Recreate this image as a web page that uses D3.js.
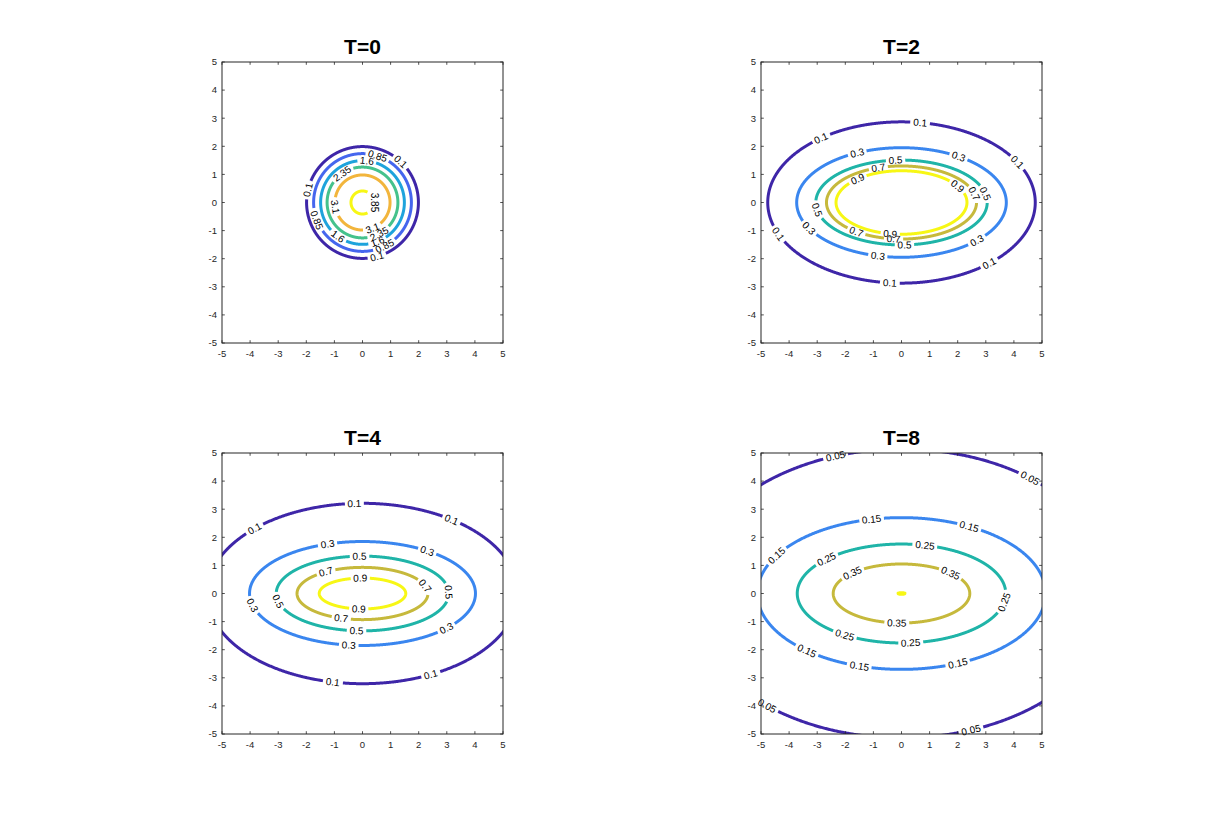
<!DOCTYPE html>
<html><head><meta charset="utf-8">
<script src="https://cdn.jsdelivr.net/npm/d3@7"></script>
<style>body{margin:0;background:#fff}svg{display:block}</style>
</head><body>
<svg id="chart" width="1221" height="825"></svg>
<script>
// ---------- data ----------
const titles = ["T=0", "T=2", "T=4", "T=8"];
const tickValues = [-5, -4, -3, -2, -1, 0, 1, 2, 3, 4, 5];

// T=0
const levelsT0 = [0.1, 0.85, 1.6, 2.35, 3.1, 3.85];
const semiXT0 = [1.99, 1.74, 1.49, 1.26, 0.98, 0.41];
const semiYT0 = [1.99, 1.74, 1.49, 1.26, 0.98, 0.41];
const labelAnglesT0 = [[167, 47, 285], [72, 201, 297], [84, 234, 291], [125, 298], [189, 291], [0]];
// T=2
const levelsT2 = [0.1, 0.3, 0.5, 0.7, 0.9];
const semiXT2 = [4.76, 3.73, 3.05, 2.67, 2.33];
const semiYT2 = [2.87, 1.95, 1.51, 1.30, 1.13];
const labelAnglesT2 = [[82, 127, 30, 203, 311, 265], [115, 57, 208, 316, 257], [94, 190, 12, 272], [108, 14, 233, 264], [132, 31, 260]];
// T=4
const levelsT4 = [0.1, 0.3, 0.5, 0.7, 0.9];
const semiXT4 = [5.53, 4.02, 3.07, 2.33, 1.54];
const semiYT4 = [3.21, 1.85, 1.33, 0.93, 0.55];
const labelAnglesT4 = [[93, 134, 55, 259, 296], [108, 55, 193, 318, 263], [92, 192, 2, 266], [124, 17, 251], [93, 265]];
// T=8
const levelsT8 = [0.05, 0.15, 0.25, 0.35, 0.45];
const semiXT8 = [7.6, 5.13, 3.71, 2.43, 0.12];
const semiYT8 = [5.14, 2.70, 1.76, 1.05, 0.03];
const labelAnglesT8 = [[108, 53, 231, 289], [102, 62, 150, 229, 253, 293], [77, 136, 350, 237, 275], [136, 44, 266], []];

const colors6 = ["#3e26a8", "#4566ee", "#1ea3dc", "#45c28c", "#f2b53c", "#f7f715"];
const colors5 = ["#3e26a8", "#3a86ef", "#1fb4a8", "#c6b93c", "#f7f715"];

// ---------- layout ----------
const panels = [
  {title: titles[0], left: 222, top: 62, levels: levelsT0, ax: semiXT0, by: semiYT0, lab: labelAnglesT0, colors: colors6},
  {title: titles[1], left: 761, top: 62, levels: levelsT2, ax: semiXT2, by: semiYT2, lab: labelAnglesT2, colors: colors5},
  {title: titles[2], left: 222, top: 453, levels: levelsT4, ax: semiXT4, by: semiYT4, lab: labelAnglesT4, colors: colors5},
  {title: titles[3], left: 761, top: 453, levels: levelsT8, ax: semiXT8, by: semiYT8, lab: labelAnglesT8, colors: colors5}
];
const size = 281;
const font = "'Liberation Sans', Arial, Helvetica, sans-serif";
const labelFont = 10;

const svg = d3.select("#chart");

function textWidth(s, fs) {
  let w = 0;
  for (const c of s) w += (c === "." ? 0.278 : 0.556);
  return w * fs;
}

panels.forEach((p, pi) => {
  const x = d3.scaleLinear().domain([-5, 5]).range([p.left, p.left + size]);
  const y = d3.scaleLinear().domain([-5, 5]).range([p.top + size, p.top]);
  const g = svg.append("g");

  const clipId = "clip" + pi;
  svg.append("clipPath").attr("id", clipId).append("rect")
    .attr("x", p.left).attr("y", p.top).attr("width", size).attr("height", size);

  const lines = g.append("g").attr("clip-path", `url(#${clipId})`);
  const labels = g.append("g");

  p.levels.forEach((lev, li) => {
    const a = p.ax[li], b = p.by[li];
    const txt = String(lev);
    const half = textWidth(txt, labelFont) / 2 + 2.5;
    const labPts = p.lab[li].map(deg => {
      const t = deg * Math.PI / 180;
      const px = x(a * Math.cos(t)), py = y(b * Math.sin(t));
      const dx = x(-a * Math.sin(t)) - x(0);
      const dy = y(b * Math.cos(t)) - y(0);
      let ang = Math.atan2(dy, dx) * 180 / Math.PI;
      if (ang > 90) ang -= 180;
      if (ang <= -90) ang += 180;
      return {px, py, ang};
    });
    const N = 1440;
    const pts = d3.range(N + 1).map(i => {
      const t = i / N * 2 * Math.PI;
      const px = x(a * Math.cos(t)), py = y(b * Math.sin(t));
      const ok = labPts.every(L => Math.hypot(px - L.px, py - L.py) > half);
      return [px, py, ok];
    });
    const line = d3.line().defined(d => d[2]).x(d => d[0]).y(d => d[1]);
    lines.append("path").attr("d", line(pts))
      .attr("fill", "none").attr("stroke", p.colors[li])
      .attr("stroke-width", 3).attr("stroke-linejoin", "round");

    labPts.forEach(L => {
      labels.append("text")
        .attr("transform", `translate(${L.px},${L.py}) rotate(${L.ang})`)
        .attr("text-anchor", "middle").attr("dy", "0.35em")
        .attr("font-family", font).attr("font-size", labelFont)
        .attr("fill", "#000").text(txt);
    });
  });

  // axes box
  g.append("rect").attr("x", p.left).attr("y", p.top).attr("width", size).attr("height", size)
    .attr("fill", "none").attr("stroke", "#262626").attr("stroke-width", 1);

  // ticks (inward, all four sides)
  const tl = 2.8;
  const axG = g.append("g").attr("stroke", "#262626").attr("stroke-width", 0.8);
  tickValues.forEach(v => {
    axG.append("line").attr("x1", x(v)).attr("x2", x(v)).attr("y1", p.top + size).attr("y2", p.top + size - tl);
    axG.append("line").attr("x1", x(v)).attr("x2", x(v)).attr("y1", p.top).attr("y2", p.top + tl);
    axG.append("line").attr("y1", y(v)).attr("y2", y(v)).attr("x1", p.left).attr("x2", p.left + tl);
    axG.append("line").attr("y1", y(v)).attr("y2", y(v)).attr("x1", p.left + size).attr("x2", p.left + size - tl);
  });
  tickValues.forEach(v => {
    g.append("text").attr("x", x(v)).attr("y", p.top + size + 14)
      .attr("text-anchor", "middle").attr("font-family", font).attr("font-size", 9.5)
      .attr("fill", "#262626").text(v);
    g.append("text").attr("x", p.left - 5).attr("y", y(v)).attr("dy", "0.35em")
      .attr("text-anchor", "end").attr("font-family", font).attr("font-size", 9.5)
      .attr("fill", "#262626").text(v);
  });

  g.append("text").attr("x", p.left + size / 2).attr("y", p.top - 8)
    .attr("text-anchor", "middle").attr("font-family", font).attr("font-size", 21)
    .attr("font-weight", "bold").attr("fill", "#000").text(p.title);
});
</script>
</body></html>
